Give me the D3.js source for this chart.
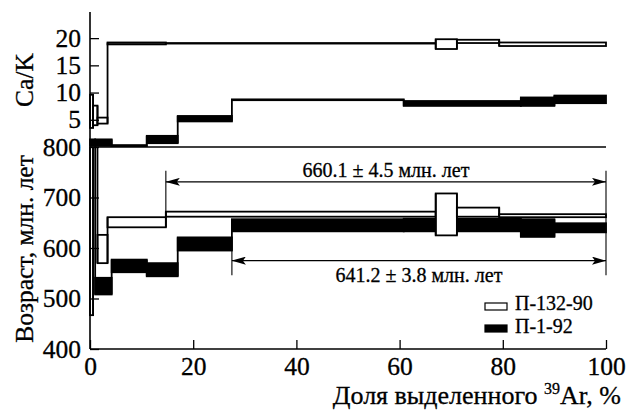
<!DOCTYPE html>
<html>
<head>
<meta charset="utf-8">
<script src="https://cdn.jsdelivr.net/npm/d3@7"></script>
</head>
<body style="margin:0;background:#fff">
<svg id="chart"></svg>
<script>
const width = 626, height = 410;
const serif = '"Liberation Serif"';

// П-132-90 (open boxes): step boundaries in % 39Ar, then per-step ranges
const bounds132 = [0, 0.6, 1.45, 3.4, 14.7, 67.0, 71.1, 79.3, 100];
const ageLo132 = [467, 820, 570, 641, 662, 625, 662, 661];
const ageHi132 = [850, 900, 626, 661, 672, 708, 680, 667];
const caLo132 = [3.5, 4.0, 4.3, 18.85, 19.0, 18.0, 19.1, 18.55];
const caHi132 = [9.6, 7.6, 5.4, 19.2, 19.1, 19.8, 19.7, 19.2];

// П-1-92 (filled boxes)
const bounds192 = [0, 1.0, 4.2, 11.0, 17.0, 27.5, 60.8, 83.5, 90.0, 100];
const ageLo192 = [820, 508, 552, 544, 595, 633, 633, 622, 631];
const ageHi192 = [900, 541, 577, 570, 621, 657, 658, 657, 649];
const caLo192 = [0.2, 0.2, 0.05, 0.7, 4.7, 8.6, 7.55, 7.55, 8.05];
const caHi192 = [1.4, 1.4, 0.35, 2.05, 5.7, 8.75, 8.45, 9.1, 9.45];

// plateau ages
const plateauFrom = [14.7, 27.5];
const plateauArrowAge = [731, 575];
const plateauBarTop = [753, 596];
const plateauBarBottom = [641, 546];
const plateauLabels = ["660.1 ± 4.5 млн. лет", "641.2 ± 3.8 млн. лет"];

const xTicks = [0, 20, 40, 60, 80, 100];
const ageTicks = [400, 500, 600, 700, 800];
const caTicks = [5, 10, 15, 20];
const legendNames = ["П-132-90", "П-1-92"];

const svg = d3.select("#chart").attr("width", width).attr("height", height);

const x = d3.scaleLinear().domain([0, 100]).range([90, 606]);
const yAge = d3.scaleLinear().domain([400, 800]).range([349, 147]);
const yCa = d3.scaleLinear().domain([0, 24.8]).range([147, 12]);

const defs = svg.append("defs");
defs.append("clipPath").attr("id", "clipAge").append("rect")
    .attr("x", 80).attr("width", 540)
    .attr("y", yAge(800)).attr("height", yAge(400) - yAge(800));
defs.append("clipPath").attr("id", "clipCa").append("rect")
    .attr("x", 80).attr("width", 540)
    .attr("y", yCa(24.8)).attr("height", yCa(0) - yCa(24.8));
defs.append("marker")
    .attr("id", "arrow")
    .attr("viewBox", "0 0 14 8")
    .attr("refX", 14).attr("refY", 4)
    .attr("markerWidth", 14).attr("markerHeight", 8)
    .attr("markerUnits", "userSpaceOnUse")
    .attr("orient", "auto-start-reverse")
    .append("path")
    .attr("d", "M0,0 L14,4 L0,8 L3,4 Z")
    .attr("fill", "#000");

function drawSpectrum(g, bounds, lo, hi, y, filled) {
    const steps = lo.map((v, i) => ({ x0: bounds[i], x1: bounds[i + 1], lo: v, hi: hi[i] }));
    g.selectAll(null).data(steps).join("rect")
        .attr("x", d => x(d.x0))
        .attr("width", d => x(d.x1) - x(d.x0))
        .attr("y", d => y(d.hi))
        .attr("height", d => y(d.lo) - y(d.hi))
        .attr("fill", filled ? "#000" : "#fff")
        .attr("stroke", "#000")
        .attr("stroke-width", 1.8);
    // vertical joins between neighbouring steps
    const joins = steps.slice(1).map((d, i) => ({
        x: d.x0,
        lo: Math.min(d.lo, steps[i].lo),
        hi: Math.max(d.hi, steps[i].hi)
    }));
    g.selectAll(null).data(joins).join("line")
        .attr("x1", d => x(d.x)).attr("x2", d => x(d.x))
        .attr("y1", d => y(d.lo)).attr("y2", d => y(d.hi))
        .attr("stroke", "#000")
        .attr("stroke-width", 1.8);
}

const gCa = svg.append("g").attr("clip-path", "url(#clipCa)");
drawSpectrum(gCa, bounds192, caLo192, caHi192, yCa, true);
drawSpectrum(gCa, bounds132, caLo132, caHi132, yCa, false);

const gAge = svg.append("g").attr("clip-path", "url(#clipAge)");
drawSpectrum(gAge, bounds192, ageLo192, ageHi192, yAge, true);
drawSpectrum(gAge, bounds132, ageLo132, ageHi132, yAge, false);

// separator line at 800
svg.append("line")
    .attr("x1", x(0)).attr("x2", x(100))
    .attr("y1", yAge(800)).attr("y2", yAge(800))
    .attr("stroke", "#000").attr("stroke-width", 1.6);

// axes
function styleAxis(g) {
    g.select(".domain").remove();
    g.selectAll(".tick line").attr("stroke", "#000").attr("stroke-width", 1.3);
    g.selectAll(".tick text")
        .attr("font-size", 25.5)
        .attr("fill", "#000");
}

svg.append("g")
    .attr("transform", `translate(${x(0)},0)`)
    .call(d3.axisLeft(yCa).tickValues(caTicks).tickSize(-9).tickPadding(9))
    .call(styleAxis);

svg.append("g")
    .attr("transform", `translate(${x(0)},0)`)
    .call(d3.axisLeft(yAge).tickValues(ageTicks).tickSize(-9).tickPadding(9))
    .call(styleAxis);

svg.append("g")
    .attr("transform", `translate(0,${yAge(400)})`)
    .call(d3.axisBottom(x).tickValues(xTicks).tickSize(-9).tickPadding(8))
    .call(styleAxis);

svg.append("line")
    .attr("x1", x(0)).attr("x2", x(0))
    .attr("y1", yCa(24.8)).attr("y2", yAge(400))
    .attr("stroke", "#000").attr("stroke-width", 1.6);
svg.append("line")
    .attr("x1", x(0)).attr("x2", x(100))
    .attr("y1", yAge(400)).attr("y2", yAge(400))
    .attr("stroke", "#000").attr("stroke-width", 1.6);

// plateau arrows
const gPl = svg.append("g");
plateauFrom.forEach((p, i) => {
    const yA = yAge(plateauArrowAge[i]);
    gPl.append("line")
        .attr("x1", x(p)).attr("x2", x(p))
        .attr("y1", yAge(plateauBarTop[i])).attr("y2", yAge(plateauBarBottom[i]))
        .attr("stroke", "#000").attr("stroke-width", 1.1);
    gPl.append("line")
        .attr("x1", x(p)).attr("x2", x(100))
        .attr("y1", yA).attr("y2", yA)
        .attr("stroke", "#000").attr("stroke-width", 1.1)
        .attr("marker-start", "url(#arrow)")
        .attr("marker-end", "url(#arrow)");
    gPl.append("text")
        .attr("x", (x(p) + x(100)) / 2)
        .attr("y", i === 0 ? yA - 5 : yA + 21)
        .attr("text-anchor", "middle")
        .attr("font-size", 20)
        .text(plateauLabels[i]);
});
gPl.append("line")
    .attr("x1", x(100)).attr("x2", x(100))
    .attr("y1", yAge(d3.max(plateauBarTop))).attr("y2", yAge(d3.min(plateauBarBottom)))
    .attr("stroke", "#000").attr("stroke-width", 1.1);

// legend
const legend = svg.append("g").attr("transform", "translate(485,303)");
legendNames.forEach((name, i) => {
    legend.append("rect")
        .attr("x", 0).attr("y", i * 22)
        .attr("width", 22).attr("height", 7)
        .attr("fill", i === 0 ? "#fff" : "#000")
        .attr("stroke", "#000").attr("stroke-width", 1.2);
    legend.append("text")
        .attr("x", 30).attr("y", i * 23 + 7)
        .attr("font-size", 20)
        .text(name);
});

// axis titles
svg.append("text")
    .attr("transform", "translate(33,80) rotate(-90)")
    .attr("text-anchor", "middle")
    .attr("font-size", 25.5)
    .text("Ca/K");
svg.append("text")
    .attr("transform", "translate(33,249) rotate(-90)")
    .attr("text-anchor", "middle")
    .attr("font-size", 25.5)
    .text("Возраст, млн. лет");

const xTitle = svg.append("text")
    .attr("x", 621).attr("y", 404)
    .attr("text-anchor", "end")
    .attr("font-size", 26);
xTitle.append("tspan").text("Доля выделенного ");
xTitle.append("tspan").attr("font-size", 16).attr("dy", -10).text("39");
xTitle.append("tspan").attr("dy", 10).text("Ar, %");

svg.selectAll("text")
    .style("font-family", serif)
    .attr("fill", "#000")
    .attr("stroke", "#000")
    .attr("stroke-width", 0.3);
</script>
</body>
</html>
